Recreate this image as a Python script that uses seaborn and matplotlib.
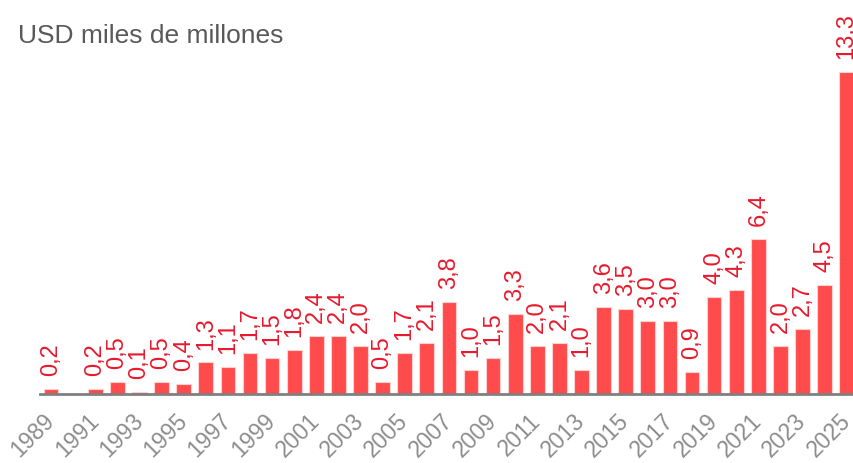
import matplotlib
matplotlib.use("Agg")
import matplotlib.pyplot as plt
import seaborn as sns
import pandas as pd

# Annual amounts, USD thousands of millions
years = list(range(1989, 2026))
values = [0.2, 0.0, 0.2, 0.5, 0.1, 0.5, 0.4, 1.3, 1.1, 1.7,
          1.5, 1.8, 2.4, 2.4, 2.0, 0.5, 1.7, 2.1, 3.8, 1.0,
          1.5, 3.3, 2.0, 2.1, 1.0, 3.6, 3.5, 3.0, 3.0, 0.9,
          4.0, 4.3, 6.4, 2.0, 2.7, 4.5, 13.3]
title = "USD miles de millones"

bar_color = "#ff4b4b"
label_color = "#e8192c"
tick_color = "#8c8c8c"
title_color = "#595959"

sns.set_theme(style="white")
plt.rcParams["font.family"] = ["Liberation Sans", "DejaVu Sans"]

df = pd.DataFrame({"year": [str(y) for y in years], "value": values})

fig = plt.figure(figsize=(8.54, 4.64), dpi=100)
ax = fig.add_axes([40 / 854, 69 / 464, 814 / 854, 395 / 464])

sns.barplot(data=df, x="year", y="value", color=bar_color, saturation=1,
            width=0.665, edgecolor="#ffd0d0", linewidth=0.8, ax=ax)

ax.set_xlim(-0.5, 36.33)
ax.set_ylim(0, 16.29)

# value labels above each bar, decimal comma
for i, v in enumerate(values):
    if v <= 0:
        continue
    ax.annotate(f"{v:.1f}".replace(".", ","), xy=(i, v), xytext=(0, 10),
                textcoords="offset points", rotation=90, ha="center",
                va="bottom", fontsize=17, color=label_color)

# tick labels on every other year
ticks = [i for i, y in enumerate(years) if (y - years[0]) % 2 == 0]
ax.set_xticks(ticks)
ax.set_xticklabels([str(years[i]) for i in ticks], rotation=45, ha="right",
                   va="center", rotation_mode="anchor", fontsize=16.5,
                   color=tick_color)
ax.tick_params(axis="x", length=0, pad=16)
ax.set_yticks([])
ax.set_xlabel("")
ax.set_ylabel("")

for side in ["top", "right", "left"]:
    ax.spines[side].set_visible(False)
ax.spines["bottom"].set_color("#808080")
ax.spines["bottom"].set_linewidth(2)

fig.text(18 / 854, 1 - 43 / 464, title, fontsize=19, color=title_color,
         ha="left", va="baseline")

fig.savefig("out.png", dpi=100)
